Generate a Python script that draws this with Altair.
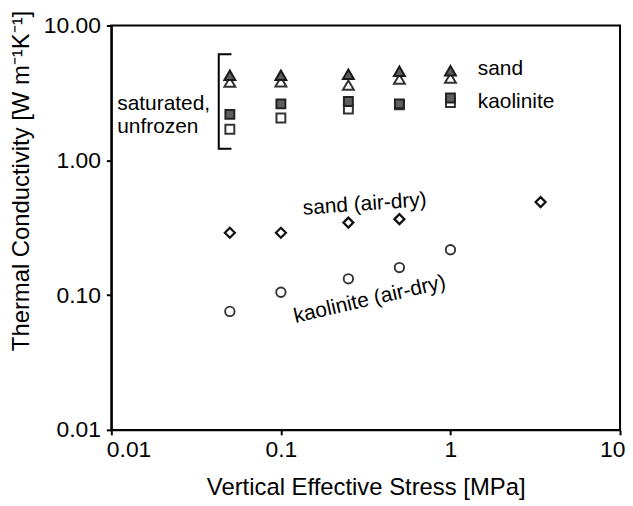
import altair as alt
import pandas as pd

FONT = "Liberation Sans"

# Vertical effective stress [MPa]
stress_sat = [0.05, 0.1, 0.25, 0.5, 1.0]
sand_sat_filled = [4.28, 4.28, 4.35, 4.58, 4.62]
sand_sat_open = [3.80, 3.83, 3.61, 4.00, 4.07]
kaol_sat_filled = [2.19, 2.62, 2.73, 2.62, 2.90]
kaol_sat_open = [1.70, 2.06, 2.40, 2.58, 2.68]

stress_sand_dry = [0.05, 0.1, 0.25, 0.5, 3.4]
sand_dry = [0.29, 0.29, 0.345, 0.366, 0.49]
stress_kaol_dry = [0.05, 0.1, 0.25, 0.5, 1.0]
kaol_dry = [0.0757, 0.105, 0.132, 0.160, 0.217]

x_ticks = [0.01, 0.1, 1, 10]
y_ticks = [0.01, 0.1, 1, 10]

# annotations (data coordinates)
left_labels = ["sand", "kaolinite", "saturated,", "unfrozen"]
left_x = [1.45, 1.45, 0.01084, 0.01084]
left_y = [4.74, 2.71, 2.60, 1.76]

rot_labels = ["sand (air-dry)", "kaolinite (air-dry)"]
rot_x = [0.312, 0.334]
rot_y = [0.471, 0.0925]
rot_angle = [356, 347]

bracket_x = [0.0511, 0.043, 0.043, 0.0511]
bracket_y = [6.11, 6.11, 1.22, 1.22]

xscale = alt.Scale(type="log", domain=[0.01, 10], nice=False)
yscale = alt.Scale(type="log", domain=[0.01, 10], nice=False)

xaxis = alt.Axis(
    values=x_ticks, format="~g", title="Vertical Effective Stress [MPa]",
    titleFont=FONT, titleFontSize=24, titleFontWeight="normal", titleColor="black",
    titleY=58, titleBaseline="middle",
    labelFont=FONT, labelFontSize=23, labelColor="black", labelPadding=4,
    labelFlush=True, labelFlushOffset=5,
    tickSize=5, tickWidth=2, tickColor="black",
    domainColor="black", domainWidth=2, grid=False,
)
yaxis = alt.Axis(
    values=y_ticks, format=".2f", title="Thermal Conductivity [W m\u207b\u00b9K\u207b\u00b9]",
    titleFont=FONT, titleFontSize=24, titleFontWeight="normal", titleColor="black",
    titleAngle=270, titleAlign="center", titleBaseline="middle", titleX=-90, titleY=156,
    labelFont=FONT, labelFontSize=23, labelColor="black", labelPadding=6,
    tickSize=5, tickWidth=2, tickColor="black",
    domainColor="black", domainWidth=2, grid=False,
)

def X():
    return alt.X("x:Q", scale=xscale, axis=xaxis)

def Y():
    return alt.Y("y:Q", scale=yscale, axis=yaxis)

def pts(xs, ys):
    return pd.DataFrame({"x": xs, "y": ys})

def point_layer(df, shape, fill, stroke, size, sw=2):
    return alt.Chart(df).mark_point(
        shape=shape, filled=True, fill=fill, stroke=stroke, strokeWidth=sw,
        size=size, opacity=1
    ).encode(x=X(), y=Y())

tri_open = point_layer(pts(stress_sat, sand_sat_open), "triangle-up", "white", "#333333", 120)
tri_fill = point_layer(pts(stress_sat, sand_sat_filled), "triangle-up", "#5a5a5a", "#1a1a1a", 120)
sq_open = point_layer(pts(stress_sat, kaol_sat_open), "square", "white", "#333333", 80)
sq_fill = point_layer(pts(stress_sat, kaol_sat_filled), "square", "#5f5f5f", "#222222", 80)
diam = point_layer(pts(stress_sand_dry, sand_dry), "diamond", "white", "#111111", 100, 2.3)
circ = point_layer(pts(stress_kaol_dry, kaol_dry), "circle", "white", "#333333", 90, 1.9)

bracket = alt.Chart(pd.DataFrame({"x": bracket_x, "y": bracket_y, "i": list(range(4))})).mark_line(
    color="black", strokeWidth=2
).encode(x=X(), y=Y(), order=alt.Order("i:Q"))

left_text = alt.Chart(pd.DataFrame({"x": left_x, "y": left_y, "t": left_labels})).mark_text(
    font=FONT, fontSize=21, align="left", baseline="middle", color="black"
).encode(x=X(), y=Y(), text="t:N")

rot_text = alt.Chart(pd.DataFrame({"x": rot_x, "y": rot_y, "t": rot_labels, "a": rot_angle})).mark_text(
    font=FONT, fontSize=21, align="center", baseline="middle", color="black"
).encode(x=X(), y=Y(), text="t:N", angle=alt.Angle("a:Q", scale=None))

chart = alt.layer(
    bracket, tri_open, tri_fill, sq_open, sq_fill, diam, circ, left_text, rot_text
).properties(
    width=512, height=407,
    autosize=alt.AutoSizeParams(type="none"),
    padding={"left": 104, "top": 16, "right": 5, "bottom": 74},
).configure_view(
    stroke="black", strokeWidth=2
)

chart.save("out.html", embed_options={"renderer": "svg", "actions": False})
